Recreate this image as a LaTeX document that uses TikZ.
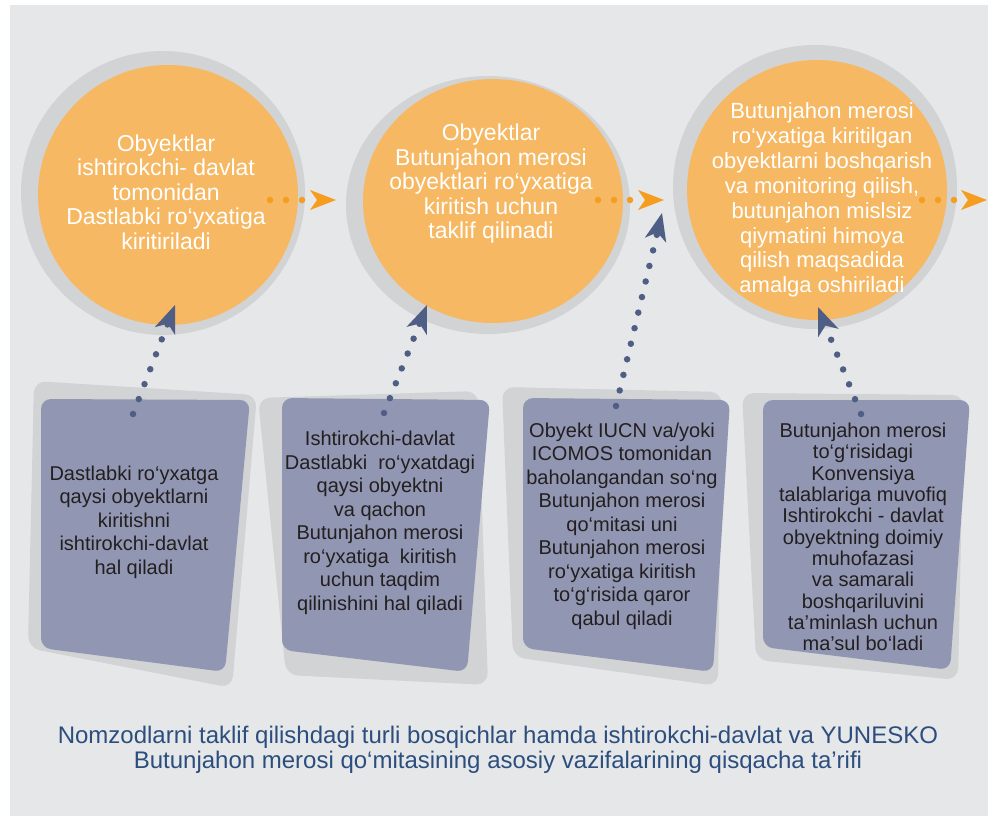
\documentclass[tikz,border=0pt]{standalone}
\usepackage{fontspec}
\setmainfont{Liberation Sans}
\usetikzlibrary{arrows.meta}
\definecolor{panel}{HTML}{E6E7E8}
\definecolor{halocol}{HTML}{D1D3D4}
\definecolor{orangefill}{HTML}{F6B862}
\definecolor{orangearrow}{HTML}{F59D1E}
\definecolor{boxfill}{HTML}{9196B2}
\definecolor{boxshadow}{HTML}{D1D3D4}
\definecolor{boxtext}{HTML}{231F20}
\definecolor{bluearrow}{HTML}{4F5E85}
\definecolor{captioncol}{HTML}{2B4E7E}
\begin{document}
\begin{tikzpicture}[x=1pt,y=-1pt,
  halo/.style={fill=halocol, draw=none},
  disc/.style={fill=orangefill, draw=none},
  circtext/.style={text=white, align=center, font=\fontsize{23}{24.5}\selectfont, inner sep=0pt},
  boxshade/.style={fill=boxshadow, rounded corners=12pt},
  boxbody/.style={fill=boxfill, rounded corners=10pt},
  boxtxt/.style={text=boxtext, align=center, font=\fontsize{20}{23.5}\selectfont, inner sep=0pt},
  orangeflow/.style={draw=orangearrow, line width=6.5pt, line cap=round, dash pattern=on 0pt off 16pt,
     -{Stealth[length=26pt,width=20pt,inset=7pt,line width=0pt]}},
  blueflow/.style={draw=bluearrow, line width=6.5pt, line cap=round, dash pattern=on 0pt off 16pt,
     -{Stealth[length=28pt,width=22pt,inset=8pt,line width=0pt]}},
]
\useasboundingbox (0,0) rectangle (988,816);
\fill[white] (0,0) rectangle (988,816);
\fill[panel] (10,5) rectangle (988,816);

% circles
\fill[halo] (163,193) circle [radius=142pt];
\fill[disc] (168,195) circle [radius=130pt];
\fill[halo] (488,205) ellipse [x radius=142pt, y radius=129pt];
\fill[disc] (493,201) ellipse [x radius=130pt, y radius=122pt];
\fill[halo] (815,187) circle [radius=142pt];
\fill[disc] (817,190) circle [radius=130pt];

\node[circtext] (t1) at (166,192) {Obyektlar\\ishtirokchi- davlat\\tomonidan\\Dastlabki ro‘yxatiga\\kiritiriladi};
\node[circtext] (t2) at (491,184) {Obyektlar\\Butunjahon merosi\\obyektlari ro‘yxatiga\\kiritish uchun\\taklif qilinadi};
\node[circtext, font=\fontsize{22}{24.9}\selectfont] (t3) at (822,200) {Butunjahon merosi\\ro‘yxatiga kiritilgan\\obyektlarni boshqarish\\va monitoring qilish,\\butunjahon mislsiz\\qiymatini himoya\\qilish maqsadida\\amalga oshiriladi};

% boxes
\fill[boxshade] (34,381) -- (257,395) -- (232,688) -- (28,648) -- cycle;
\fill[boxbody] (41,399) -- (250,400) -- (225,672) -- (41,648) -- cycle;
\fill[boxshade] (258,398) -- (478,391) -- (488,685) -- (286,675) -- cycle;
\fill[boxbody] (282,398) -- (490,400) -- (467,672) -- (282,650) -- cycle;
\fill[boxshade] (502,387) -- (722,392) -- (718,686) -- (513,657) -- cycle;
\fill[boxbody] (523,398) -- (730,400) -- (713,672) -- (523,648) -- cycle;
\fill[boxshade] (742,393) -- (964,395) -- (958,680) -- (756,660) -- cycle;
\fill[boxbody] (763,400) -- (970,400) -- (950,670) -- (763,647) -- cycle;

\node[boxtxt] (x1) at (134,522) {Dastlabki ro‘yxatga\\qaysi obyektlarni\\kiritishni\\ishtirokchi-davlat\\hal qiladi};
\node[boxtxt] (x2) at (380,523) {Ishtirokchi-davlat\\Dastlabki\ \ ro‘yxatdagi\\qaysi obyektni\\va qachon\\Butunjahon merosi\\ro‘yxatiga\ \ kiritish\\uchun taqdim\\qilinishini hal qiladi};
\node[boxtxt] (x3) at (622,526) {Obyekt IUCN va/yoki\\ICOMOS tomonidan\\baholangandan so‘ng\\Butunjahon merosi\\qo‘mitasi uni\\Butunjahon merosi\\ro‘yxatiga kiritish\\to‘g‘risida qaror\\qabul qiladi};
\node[boxtxt, font=\fontsize{20}{21.3}\selectfont] (x4) at (863,537) {Butunjahon merosi\\to‘g‘risidagi\\Konvensiya\\talablariga muvofiq\\Ishtirokchi - davlat\\obyektning doimiy\\muhofazasi\\va samarali\\boshqariluvini\\ta’minlash uchun\\ma’sul bo‘ladi};

% orange connectors
\coordinate (o1s) at (270,200); \coordinate (o1t) at (336,200);
\coordinate (o2s) at (598,200); \coordinate (o2t) at (664,200);
\coordinate (o3s) at (922,200); \coordinate (o3t) at (987,200);
\draw[orangeflow] (o1s) -- (o1t);
\draw[orangeflow] (o2s) -- (o2t);
\draw[orangeflow] (o3s) -- (o3t);

% blue connectors
\coordinate (b1s) at (133,414); \coordinate (b1t) at (175,305);
\coordinate (b2s) at (384,413); \coordinate (b2t) at (427,305);
\coordinate (b3s) at (616,406); \coordinate (b3t) at (662,213);
\coordinate (b4s) at (861,414); \coordinate (b4t) at (818,307);
\draw[blueflow] (b1s) -- (b1t);
\draw[blueflow] (b2s) -- (b2t);
\draw[blueflow] (b3s) -- (b3t);
\draw[blueflow] (b4s) -- (b4t);

% caption
\node[text=captioncol, align=center, font=\fontsize{24}{24.5}\selectfont, inner sep=0pt] (cap) at (498,750)
  {Nomzodlarni taklif qilishdagi turli bosqichlar hamda ishtirokchi-davlat va YUNESKO\\Butunjahon merosi qo‘mitasining asosiy vazifalarining qisqacha ta’rifi};
\end{tikzpicture}
\end{document}
